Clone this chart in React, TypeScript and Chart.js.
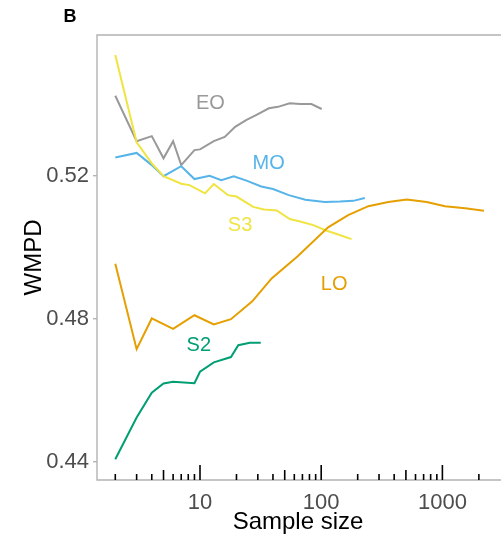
import React, { useEffect, useRef } from "react";
import { Chart, registerables } from "chart.js";

Chart.register(...registerables);

// ---- data ----
const EO_X = [2, 3, 4, 5, 6, 7, 9, 10, 13, 16, 19.5, 24, 29, 37, 44, 55, 67, 83, 101];
const EO_Y = [0.5424, 0.5297, 0.5311, 0.5249, 0.5297, 0.523, 0.5272, 0.5274, 0.5297, 0.5309, 0.5337, 0.5356, 0.537, 0.5389, 0.5393, 0.5403, 0.5401, 0.5401, 0.5387];

const MO_X = [2, 3, 4, 5, 7, 9, 12, 15, 19, 24.5, 32, 40, 54, 74, 107, 143, 184, 229];
const MO_Y = [0.5251, 0.5264, 0.523, 0.5199, 0.5227, 0.5191, 0.52, 0.5188, 0.5199, 0.5186, 0.517, 0.5163, 0.5146, 0.5133, 0.5127, 0.5128, 0.513, 0.5138];

const S3_X = [2, 3, 4, 5, 7, 8.2, 11, 13, 17, 20, 27.5, 33.7, 43, 55, 67, 86, 110, 138, 178];
const S3_Y = [0.5538, 0.5294, 0.5235, 0.5199, 0.5178, 0.5174, 0.5151, 0.5177, 0.5146, 0.5142, 0.5113, 0.5106, 0.5103, 0.5079, 0.5072, 0.5062, 0.5047, 0.5036, 0.5023];

const LO_X = [2, 3, 4, 6, 9, 13, 18, 27, 39, 64, 114, 167, 245, 358, 508, 742, 1050, 1540, 2200];
const LO_Y = [0.4954, 0.4715, 0.4801, 0.4772, 0.481, 0.4784, 0.4799, 0.4849, 0.4913, 0.4975, 0.5056, 0.509, 0.5115, 0.5127, 0.5134, 0.5127, 0.5115, 0.5109, 0.5102];

const S2_X = [2, 3, 4, 5, 6, 9, 10, 13, 18, 20.7, 25.8, 31.7];
const S2_Y = [0.4407, 0.4524, 0.4593, 0.4619, 0.4624, 0.462, 0.4652, 0.4678, 0.4693, 0.4726, 0.4733, 0.4733];

const SERIES_NAMES = ["EO", "MO", "S3", "LO", "S2"];
const SERIES_COLORS = ["#999999", "#56B4E9", "#F0E442", "#E69F00", "#009E73"];
const LABEL_X = [12.2, 36.9, 21.4, 128, 9.77];
const LABEL_Y = [0.5402, 0.5235, 0.5062, 0.4895, 0.4726];

const X_MAJOR = [10, 100, 1000];
const X_MID = [5, 50, 500];
const X_MINOR = [2, 3, 4, 6, 7, 8, 9, 20, 30, 40, 60, 70, 80, 90, 200, 300, 400, 600, 700, 800, 900, 2000];
const Y_TICKS = [0.44, 0.48, 0.52];

const X_MIN = 1.413;
const X_MAX = 3045;
const Y_MIN = 0.4349;
const Y_MAX = 0.5594;

const FONT = "'Liberation Sans', Arial, Helvetica, sans-serif";

function pts(xs: number[], ys: number[]) {
  return xs.map((x, i) => ({ x, y: ys[i] }));
}

const overlay = {
  id: "overlay",
  beforeDatasetsDraw(chart: any) {
    const { ctx, chartArea } = chart;
    ctx.save();
    ctx.strokeStyle = "#b3b3b3";
    ctx.lineWidth = 1.4;
    ctx.beginPath();
    ctx.moveTo(chartArea.right + 2, chartArea.top);
    ctx.lineTo(chartArea.left, chartArea.top);
    ctx.lineTo(chartArea.left, chartArea.bottom);
    ctx.lineTo(chartArea.right + 2, chartArea.bottom);
    ctx.stroke();
    ctx.restore();
  },
  afterDatasetsDraw(chart: any) {
    const { ctx, chartArea, scales } = chart;
    const xs = scales.x;
    const ys = scales.y;
    ctx.save();
    // x ticks pointing inward
    ctx.strokeStyle = "#000000";
    ctx.lineWidth = 1.6;
    const drawTick = (v: number, len: number) => {
      const px = xs.getPixelForValue(v);
      if (px < chartArea.left || px > chartArea.right) return;
      ctx.beginPath();
      ctx.moveTo(px, chartArea.bottom);
      ctx.lineTo(px, chartArea.bottom - len);
      ctx.stroke();
    };
    X_MAJOR.forEach((v) => drawTick(v, 15));
    X_MID.forEach((v) => drawTick(v, 10));
    X_MINOR.forEach((v) => drawTick(v, 6));

    // series labels
    ctx.font = `20px ${FONT}`;
    ctx.textAlign = "center";
    ctx.textBaseline = "middle";
    SERIES_NAMES.forEach((name, i) => {
      ctx.fillStyle = SERIES_COLORS[i];
      ctx.fillText(name, xs.getPixelForValue(LABEL_X[i]), ys.getPixelForValue(LABEL_Y[i]));
    });
    ctx.restore();
  },
  afterDraw(chart: any) {
    const { ctx, chartArea } = chart;
    ctx.save();
    ctx.fillStyle = "#000000";
    // panel tag
    ctx.font = `bold 18px ${FONT}`;
    ctx.textAlign = "center";
    ctx.textBaseline = "middle";
    ctx.fillText("B", 70, 17);
    // axis titles
    ctx.font = `24px ${FONT}`;
    ctx.fillText("Sample size", 298, 522);
    ctx.translate(34, (chartArea.top + chartArea.bottom) / 2);
    ctx.rotate(-Math.PI / 2);
    ctx.fillText("WMPD", 0, 0);
    ctx.restore();
  },
};

export default function App() {
  const ref = useRef<HTMLCanvasElement | null>(null);
  useEffect(() => {
    if (!ref.current) return;
    const datasets = [
      { label: "S2", data: pts(S2_X, S2_Y), borderColor: SERIES_COLORS[4] },
      { label: "LO", data: pts(LO_X, LO_Y), borderColor: SERIES_COLORS[3] },
      { label: "S3", data: pts(S3_X, S3_Y), borderColor: SERIES_COLORS[2] },
      { label: "MO", data: pts(MO_X, MO_Y), borderColor: SERIES_COLORS[1] },
      { label: "EO", data: pts(EO_X, EO_Y), borderColor: SERIES_COLORS[0] },
    ].map((d) => ({
      ...d,
      borderWidth: 2,
      pointRadius: 0,
      tension: 0,
      fill: false,
    }));
    const chart = new Chart(ref.current, {
      type: "line",
      data: { datasets },
      options: {
        animation: false,
        responsive: false,
        devicePixelRatio: 1,
        layout: { padding: { top: 35, left: 0, right: 0, bottom: 0 } },
        plugins: { legend: { display: false }, tooltip: { enabled: false } },
        scales: {
          x: {
            type: "logarithmic",
            min: X_MIN,
            max: X_MAX,
            afterBuildTicks: (s: any) => {
              s.ticks = X_MAJOR.map((v) => ({ value: v, major: true }));
            },
            afterFit: (s: any) => {
              s.height = 66;
            },
            grid: { display: false },
            border: { display: false },
            ticks: {
              autoSkip: false,
              maxRotation: 0,
              padding: 2,
              color: "#4d4d4d",
              font: { family: FONT, size: 22 },
              callback: (v: any) => String(v),
            },
          },
          y: {
            type: "linear",
            min: Y_MIN,
            max: Y_MAX,
            afterBuildTicks: (s: any) => {
              s.ticks = Y_TICKS.map((v) => ({ value: v }));
            },
            afterFit: (s: any) => {
              s.width = 97;
            },
            grid: {
              display: true,
              drawOnChartArea: false,
              drawTicks: true,
              tickLength: 4,
              color: "#b3b3b3",
              lineWidth: 1.4,
            },
            border: { display: false },
            ticks: {
              padding: 4,
              color: "#4d4d4d",
              font: { family: FONT, size: 22 },
              callback: (v: any) => Number(v).toFixed(2),
            },
          },
        },
      },
      plugins: [overlay],
    });
    return () => chart.destroy();
  }, []);
  return (
    <div style={{ position: "fixed", left: 0, top: 0, width: 501, height: 546, background: "#ffffff" }}>
      <canvas ref={ref} width={501} height={546} style={{ display: "block" }} />
    </div>
  );
}
